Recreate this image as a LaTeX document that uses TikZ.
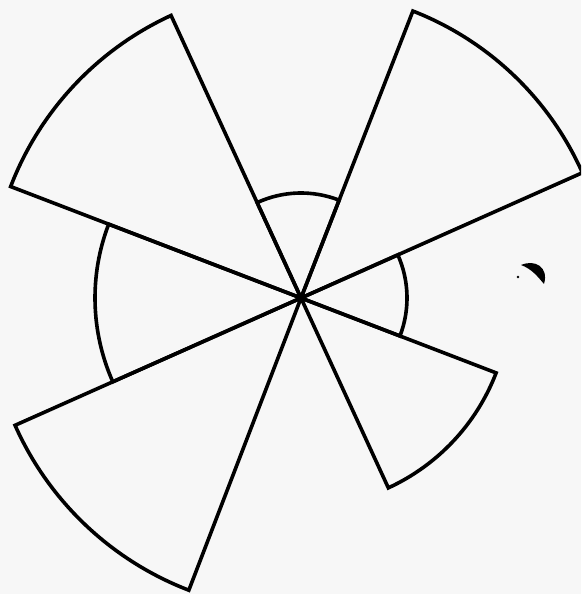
\documentclass[tikz,border=0pt]{standalone}
\begin{document}
\begin{tikzpicture}[x=1pt,y=1pt,
  petal/.style={draw=black,line width=3.6pt,line join=miter,fill=none},
  speck/.style={fill=black,draw=none}]
\fill[black!3] (0,0) rectangle (581,594);
\useasboundingbox (0,0) rectangle (581,594);
\clip (0,0) rectangle (581,594);
\coordinate (O) at (301,296);
% sectors: start angle, end angle, radius
\foreach \a/\b/\r in {24/68.7/308, 68.7/114.7/105, 114.7/159/311, 159/204/206, 204/249/313, 294.7/339/209, 339/384/106}{
  \draw[petal] (O) -- ++(\a:\r) arc[start angle=\a, end angle=\b, radius=\r] -- cycle;
}
% small speck at right
\fill[speck] (521,329) .. controls (535,335) and (549,327) .. (544,310)
  .. controls (538,317) and (532,325) .. (521,329) -- cycle;
\fill[speck] (518,317) circle[radius=1.3];
\end{tikzpicture}
\end{document}
